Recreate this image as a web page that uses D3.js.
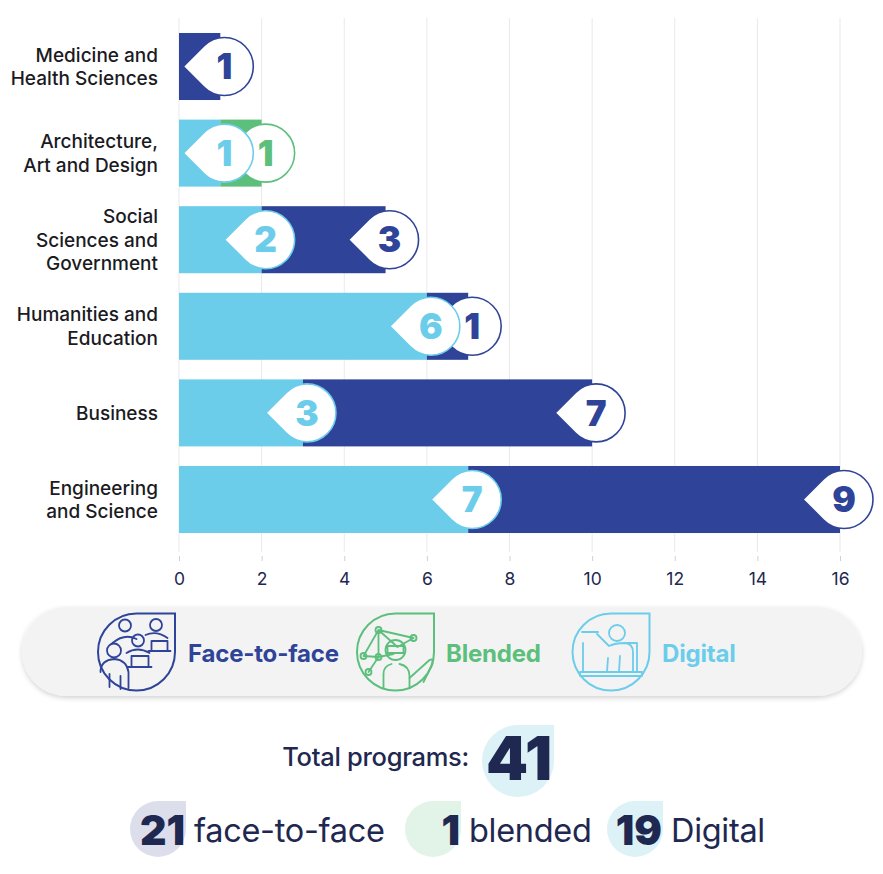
<!DOCTYPE html>
<html>
<head>
<meta charset="utf-8">
<script src="https://cdn.jsdelivr.net/npm/d3@7.9.0/dist/d3.min.js"></script>
<style>
  html, body { margin: 0; padding: 0; background: #fff; }
  svg { display: block; font-family: Inter, "Noto Sans", sans-serif; }
</style>
</head>
<body>
<svg id="chart" width="883" height="874"></svg>
<script>
// categories, top to bottom
const categories = [
  'Medicine and\nHealth Sciences',
  'Architecture,\nArt and Design',
  'Social\nSciences and\nGovernment',
  'Humanities and\nEducation',
  'Business',
  'Engineering\nand Science'
];
// programs per delivery mode
const digital    = [0, 1, 2, 6, 3, 7];
const blended    = [0, 1, 0, 0, 0, 0];
const faceToFace = [1, 0, 3, 1, 7, 9];
const xTicks = [0, 2, 4, 6, 8, 10, 12, 14, 16];

const modes = [
  { key: 'faceToFace', label: 'Face-to-face', word: 'face-to-face', color: '#2f4498', soft: '#dcdeeb' },
  { key: 'blended', label: 'Blended', word: 'blended', color: '#5cbf7b', soft: '#e2f3e8' },
  { key: 'digital', label: 'Digital', word: 'Digital', color: '#6ccdeb', soft: '#ddf2f7' }
];
const colorOf = { digital: '#6ccdeb', blended: '#5cbf7b', faceToFace: '#2f4498' };
const navy = '#1e2850';

const rows = categories.map((c, i) => ({
  category: c, digital: digital[i], blended: blended[i], faceToFace: faceToFace[i]
}));

const svg = d3.select('#chart');

const x = d3.scaleLinear().domain([0, 16]).range([179, 840]);
const y = d3.scaleBand().domain(categories).range([23.2, 542.8])
  .paddingInner(0.226).paddingOuter(0.113);

// gridlines
svg.append('g').selectAll('line').data(xTicks).join('line')
  .attr('x1', d => x(d)).attr('x2', d => x(d))
  .attr('y1', 18).attr('y2', 552)
  .attr('stroke', '#e9e9ec').attr('stroke-width', 1);

// axis
const axis = svg.append('g').attr('transform', 'translate(0,556)')
  .call(d3.axisBottom(x).tickValues(xTicks).tickSize(5).tickPadding(12));
axis.select('.domain').remove();
axis.selectAll('line').attr('stroke', '#cfd0d6');
axis.selectAll('text').attr('font-size', 17.5).attr('fill', navy)
  .attr('font-family', 'Inter, sans-serif').attr('font-weight', 400);

// stacked bars
const stack = d3.stack().keys(['digital', 'blended', 'faceToFace']);
const series = stack(rows);

svg.append('g').selectAll('g').data(series).join('g')
  .attr('fill', s => colorOf[s.key])
  .selectAll('rect').data(s => s).join('rect')
  .attr('x', d => x(d[0]))
  .attr('y', d => y(d.data.category))
  .attr('width', d => x(d[1]) - x(d[0]))
  .attr('height', y.bandwidth());

// category labels
const catG = svg.append('g');
categories.forEach(c => {
  const lines = c.split('\n');
  const cy = y(c) + y.bandwidth() / 2;
  const lh = 23.5;
  const t = catG.append('text')
    .attr('text-anchor', 'end')
    .attr('font-size', 19).attr('font-weight', 500).attr('fill', '#1b1b1f');
  lines.forEach((ln, k) => {
    t.append('tspan').attr('x', 158)
      .attr('y', cy + (k - (lines.length - 1) / 2) * lh)
      .attr('dy', '0.36em').text(ln);
  });
});

// value bubbles (teardrop pointing left)
const r = 29;
const s2 = Math.SQRT2, h = r / s2;
const dropLeft = `M${-r * s2},0L${-h},${-h}A${r},${r} 0 1 1 ${-h},${h}Z`;

const bubbles = [];
['faceToFace', 'blended', 'digital'].forEach(key => {
  const s = series.find(d => d.key === key);
  s.forEach(d => {
    const v = d[1] - d[0];
    if (v > 0) bubbles.push({ key, v, end: d[1], cat: d.data.category });
  });
});

const bg = svg.append('g').selectAll('g').data(bubbles).join('g')
  .attr('transform', d => `translate(${x(d.end) + 4},${y(d.cat) + y.bandwidth() / 2})`);
bg.append('path').attr('d', dropLeft)
  .attr('fill', '#fff').attr('stroke', d => colorOf[d.key]).attr('stroke-width', 1.6);
bg.append('text')
  .attr('text-anchor', 'middle').attr('dy', '0.36em')
  .attr('font-size', 35).attr('font-weight', 900)
  .attr('fill', d => colorOf[d.key]).text(d => d.v);

// legend pill
const defs = svg.append('defs');
const f = defs.append('filter').attr('id', 'shadow')
  .attr('x', '-5%').attr('y', '-20%').attr('width', '110%').attr('height', '150%');
f.append('feDropShadow').attr('dx', 0).attr('dy', 2).attr('stdDeviation', 2.5)
  .attr('flood-color', '#000').attr('flood-opacity', 0.18);

svg.append('rect').attr('x', 22).attr('y', 607).attr('width', 840).attr('height', 89)
  .attr('rx', 44.5).attr('fill', '#f3f3f4').attr('filter', 'url(#shadow)');

const ir = 38.5;
const dropTR = (rr) => `M0,${-rr}L${rr},${-rr}L${rr},0A${rr},${rr} 0 1 1 0,${-rr}Z`;

const iconArt = {
  faceToFace: [
    'M-17.5,-26.5a6,6 0 1 0 12,0a6,6 0 1 0 -12,0',
    'M13.5,-27a6,6 0 1 0 12,0a6,6 0 1 0 -12,0',
    'M-4.5,-11.5a6,6 0 1 0 12,0a6,6 0 1 0 -12,0',
    'M-29.5,-1.5a7,7 0 1 0 14,0a7,7 0 1 0 -14,0',
    'M-24,-9Q-12,-19 0,-13',
    'M9,-17Q20,-22 31,-14',
    'M-10,1Q1,-6 13,1',
    'M-36,20Q-36,8 -22,7Q-10,8 -8,20L-8,36',
    'M-27,22L-27,35M-16,24L-16,37',
    'M-5,4h17v11h-17zM-9,15h24',
    'M15,-11h16v10h-16zM12,-1h22'
  ],
  blended: [
    'M-17,-22L18,-14L2,-5L-17,-22L-17,5L-27,20M-32,4L-17,-22M-32,4L-17,5M-17,5L-2,2',
    'M-20,-22a3,3 0 1 0 6,0a3,3 0 1 0 -6,0',
    'M15,-14a3,3 0 1 0 6,0a3,3 0 1 0 -6,0',
    'M-20,5a3,3 0 1 0 6,0a3,3 0 1 0 -6,0',
    'M-30,20a3,3 0 1 0 6,0a3,3 0 1 0 -6,0',
    'M-35,4a3,3 0 1 0 6,0a3,3 0 1 0 -6,0',
    'M-10,-2a10,10 0 1 0 20,0a10,10 0 1 0 -20,0',
    'M-8,-6h16v7h-16z',
    'M-12,36L-12,22Q-12,14 -4,12M4,12Q14,14 14,24L14,36',
    'M14,26L34,8Q38,6 37,12L28,30'
  ],
  digital: [
    'M-2,-19a8,8 0 1 0 16,0a8,8 0 1 0 -16,0',
    'M-29,-20h16',
    'M-14,-18L-2,-6Q4,-9 14,-9Q22,-8 22,0L22,20',
    'M-28,-9v29h54v-29h-10',
    'M-3,6L-4,20M9,4L8,20',
    'M-31,20h62v4h-62z'
  ]
};

const legendItems = [
  { key: 'faceToFace', cx: 136.5, tx: 188 },
  { key: 'blended', cx: 395.5, tx: 446 },
  { key: 'digital', cx: 611, tx: 662 }
];

legendItems.forEach(it => {
  const m = modes.find(d => d.key === it.key);
  const g = svg.append('g').attr('transform', `translate(${it.cx},652)`);
  g.append('path').attr('d', dropTR(ir)).attr('fill', 'none')
    .attr('stroke', m.color).attr('stroke-width', 2);
  g.selectAll('path.art').data(iconArt[it.key]).join('path').attr('class', 'art')
    .attr('d', d => d).attr('fill', 'none').attr('stroke', m.color)
    .attr('stroke-width', 1.8).attr('stroke-linecap', 'round').attr('stroke-linejoin', 'round');
  svg.append('text').attr('x', it.tx).attr('y', 653).attr('dy', '0.36em')
    .attr('font-size', 24).attr('font-weight', 700).attr('fill', m.color)
    .attr('letter-spacing', -0.2).text(m.label);
});

// totals
const totals = {
  faceToFace: d3.sum(faceToFace),
  blended: d3.sum(blended),
  digital: d3.sum(digital)
};
const grand = totals.faceToFace + totals.blended + totals.digital;

svg.append('text').attr('x', 469).attr('y', 757).attr('dy', '0.36em')
  .attr('text-anchor', 'end').attr('font-size', 25.5).attr('font-weight', 500)
  .attr('fill', navy).attr('letter-spacing', -0.3).text('Total programs:');
svg.append('path').attr('d', dropTR(36))
  .attr('transform', 'translate(518,761)').attr('fill', '#ddf2f7');
svg.append('text').attr('x', 519).attr('y', 758).attr('dy', '0.36em')
  .attr('text-anchor', 'middle').attr('font-size', 60).attr('font-weight', 900)
  .attr('fill', navy).attr('letter-spacing', 0).text(grand);

const rowItems = [
  { key: 'faceToFace', nx: 185 },
  { key: 'blended', nx: 460 },
  { key: 'digital', nx: 662 }
];
rowItems.forEach(it => {
  const m = modes.find(d => d.key === it.key);
  svg.append('path').attr('d', dropTR(28))
    .attr('transform', `translate(${it.nx - 27},829)`).attr('fill', m.soft);
  svg.append('text').attr('x', it.nx).attr('y', 830).attr('dy', '0.36em')
    .attr('text-anchor', 'end').attr('font-size', 41).attr('font-weight', 900)
    .attr('fill', navy).attr('letter-spacing', 0).text(totals[it.key]);
  svg.append('text').attr('x', it.nx + 9).attr('y', 830).attr('dy', '0.36em')
    .attr('font-size', 32.5).attr('font-weight', 400)
    .attr('fill', navy).attr('letter-spacing', -0.3).text(m.word);
});
</script>
</body>
</html>
